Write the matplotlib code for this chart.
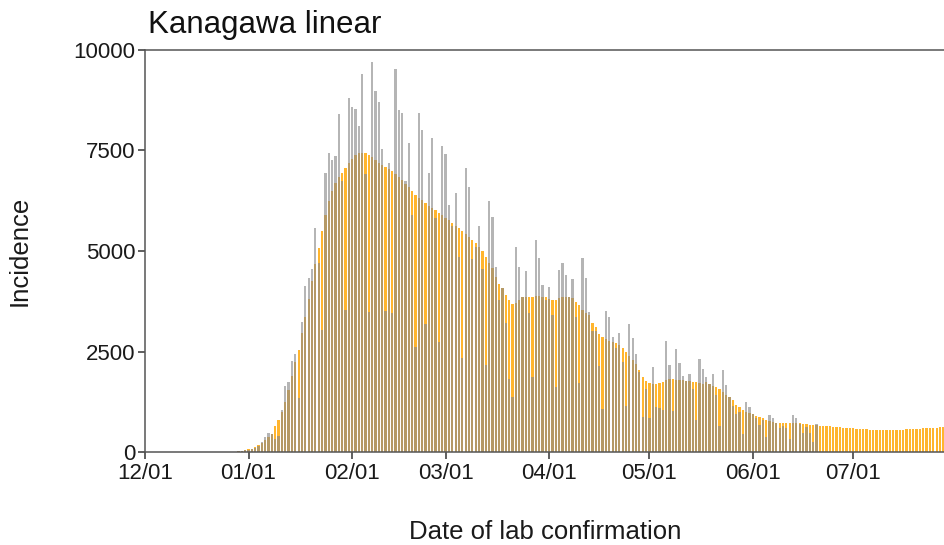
import matplotlib
matplotlib.use("Agg")
import matplotlib.pyplot as plt
import matplotlib.dates as mdates
import pandas as pd

plt.rcParams['font.family'] = ['Liberation Sans', 'DejaVu Sans']

start = "2021-12-01"

# smoothed estimate (orange), one value per day from 12/01
estimate = [0] * 28 + [
    20, 35, 55, 70, 83, 124, 166, 230, 300, 380,
    450, 640, 800, 1000, 1250, 1550, 1900, 2250, 2530, 2950,
    3350, 3800, 4250, 4680, 5074, 5496, 5900, 6250, 6500, 6700,
    6850, 6950, 7070, 7200, 7300, 7380, 7430, 7450, 7440, 7400,
    7330, 7260, 7200, 7150, 7100, 7040, 6980, 6920, 6850, 6760,
    6670, 6580, 6490, 6400, 6330, 6260, 6190, 6130, 6070, 6010,
    5950, 5890, 5830, 5770, 5700, 5630, 5560, 5500, 5430, 5360,
    5270, 5190, 5090, 5000, 4860, 4710, 4570, 4360, 4170, 4070,
    3900, 3780, 3680, 3700, 3780, 3850, 3865, 3860, 3865, 3890,
    3880, 3865, 3860, 3800, 3780, 3780, 3820, 3850, 3850, 3850,
    3820, 3740, 3660, 3530, 3450, 3400, 3220, 3100, 2935, 2870,
    2820, 2760, 2730, 2705, 2650, 2595, 2495, 2400, 2300, 2200,
    2050, 1875, 1770, 1708, 1690, 1685, 1708, 1750, 1790, 1810,
    1810, 1800, 1790, 1780, 1770, 1760, 1750, 1733, 1710, 1680,
    1750, 1690, 1650, 1625, 1560, 1490, 1420, 1360, 1300, 1170,
    1130, 1040, 990, 960, 945, 903, 880, 837, 796, 770,
    750, 730, 730, 713, 713, 713, 710, 710, 713, 688,
    688, 672, 672, 672, 650, 645, 640, 635, 630, 622,
    615, 607, 600, 592, 585, 578, 572, 566, 561, 557,
    553, 550, 548, 547, 547, 548, 550, 552, 555, 558,
    562, 566, 570, 575, 580, 585, 590, 595, 600, 605,
    610, 615,
]

# reported cases (grey), one value per day from 12/01
reported = [0] * 28 + [
    15, 25, 40, 60, 70, 110, 150, 250, 373, 480,
    456, 315, 390, 1053, 1633, 1740, 2263, 2450, 1350, 3233,
    4120, 4335, 4543, 5560, 4690, 3030, 6950, 7450, 7265, 7365,
    8400, 6750, 3530, 8800, 8590, 8530, 8110, 9400, 6910, 3490,
    9690, 8980, 8710, 7530, 3510, 7200, 3470, 9530, 8500, 8430,
    6730, 7680, 5900, 2600, 8430, 8010, 3180, 6930, 7800, 5830,
    2730, 7600, 7420, 6150, 5620, 6450, 4860, 2330, 7060, 6600,
    4790, 5110, 5610, 4545, 2165, 6250, 5855, 4590, 3780, 4070,
    3200, 1820, 1360, 5110, 4590, 3850, 4510, 3450, 1870, 5275,
    4820, 4155, 3780, 4110, 3410, 1625, 4530, 4710, 4410, 3850,
    4310, 3370, 1710, 4835, 4330, 3490, 3000, 3000, 2140, 1060,
    3510, 3365, 2870, 2580, 2970, 2250, 1145, 3185, 2830, 2430,
    2000, 879, 1560, 855, 2120, 1128, 1103, 1045, 2761, 2165,
    1020, 2555, 2220, 1890, 1766, 1932, 1560, 797, 2310, 2057,
    1875, 1690, 1940, 1418, 647, 2040, 1667, 1360, 1145, 936,
    1000, 440, 1244, 1128, 945, 837, 672, 796, 382, 920,
    837, 713, 605, 647, 589, 315, 912, 854, 688, 481,
    614, 464, 257, 697,
]

y_ticks = [0, 2500, 5000, 7500, 10000]

est_dates = pd.date_range(start, periods=len(estimate), freq="D")
rep_dates = pd.date_range(start, periods=len(reported), freq="D")

fig = plt.figure(figsize=(9.45, 5.45), dpi=100)
ax = fig.add_axes([145 / 945, 93 / 545, 800 / 945, 402 / 545])

ax.bar(est_dates, estimate, width=0.68, color="#ffb52e", linewidth=0)
ax.bar(rep_dates, reported, width=0.68, color="#888888", alpha=0.62, linewidth=0)

ax.set_xlim(pd.Timestamp(start), est_dates[-1] + pd.Timedelta(hours=12))
ax.set_ylim(0, 10000)
ax.set_yticks(y_ticks)
ax.xaxis.set_major_locator(mdates.MonthLocator())
ax.xaxis.set_major_formatter(mdates.DateFormatter("%m/%d"))

for side in ["left", "bottom", "top"]:
    ax.spines[side].set_color("#555555")
    ax.spines[side].set_linewidth(1.1)
ax.spines["right"].set_visible(False)
ax.tick_params(axis="both", length=5, width=1.1, color="#333333",
               labelsize=16, labelcolor="#1a1a1a")
ax.tick_params(axis="y", pad=2)
ax.tick_params(axis="x", pad=3)

ax.set_ylabel("Incidence", fontsize=18.5, labelpad=30, color="#1a1a1a")
ax.set_xlabel("Date of lab confirmation", fontsize=18.5, labelpad=26, color="#1a1a1a")
fig.text(148 / 945, 1 - 33 / 545, "Kanagawa linear", fontsize=22.5, color="#111111")

fig.savefig("out.png", dpi=100)
